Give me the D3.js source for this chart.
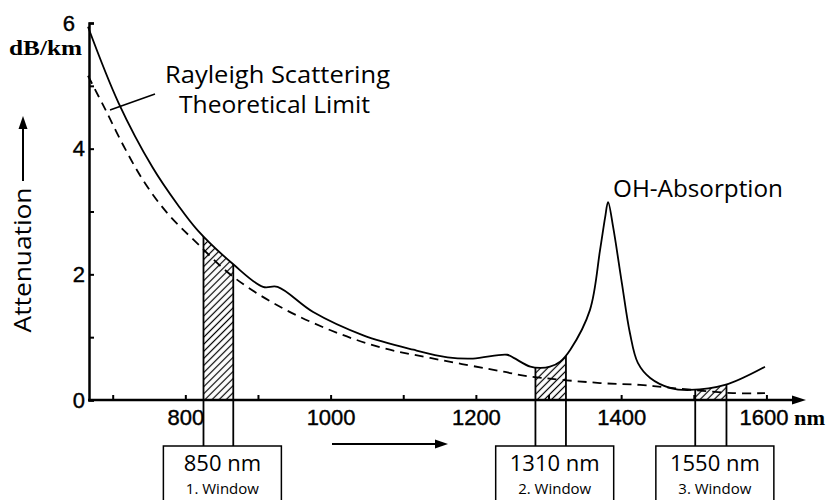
<!DOCTYPE html>
<html lang="en">
<head>
<meta charset="utf-8">
<title>Fiber Attenuation</title>
<script src="https://cdn.jsdelivr.net/npm/d3@7"></script>
<style>
  body { margin: 0; background: #fff; }
</style>
</head>
<body>
<script>

 // total attenuation curve
 var totalNm = [666, 708, 755, 790, 817, 866, 907, 927, 976, 1045, 1114, 1161, 1196, 1243, 1252, 1275, 1289, 1302, 1316, 1330, 1357, 1371, 1378, 1382, 1389, 1401, 1412, 1423, 1440, 1468, 1495, 1543, 1598];
 var totalDb = [5.94, 4.73, 3.70, 3.10, 2.70, 2.16, 1.80, 1.80, 1.40, 1.03, 0.80, 0.68, 0.66, 0.72, 0.67, 0.53, 0.51, 0.53, 0.61, 0.80, 1.43, 2.39, 2.91, 3.15, 2.75, 1.86, 1.07, 0.59, 0.35, 0.19, 0.16, 0.24, 0.53];

 // rayleigh scattering limit (dashed)
 var rayleighNm = [666, 690, 717, 745, 777, 814, 866, 931, 1000, 1068, 1137, 1238, 1271, 1371, 1426, 1472, 1554, 1598];
 var rayleighDb = [5.16, 4.62, 4.00, 3.44, 2.95, 2.52, 1.96, 1.48, 1.11, 0.84, 0.67, 0.45, 0.38, 0.27, 0.24, 0.19, 0.11, 0.11];

 // transmission windows
 var windowFrom = [825, 1282, 1502];
 var windowTo = [866, 1324, 1545];
 var windowNames = ["850 nm", "1310 nm", "1550 nm"];
 var windowNums = ["1. Window", "2. Window", "3. Window"];

 var xTicks = [700, 800, 900, 1000, 1100, 1200, 1300, 1400, 1500, 1600];
 var xLabels = [800, 1000, 1200, 1400, 1600];
 var yTicks = [0, 1, 2, 3, 4, 5, 6];
 var yLabels = [0, 2, 4, 6];

 var width = 827;
 var height = 500;

 var svg = d3.select("body")
	     .append("svg")
	     .attr("width", width)
	     .attr("height", height)
	     .style("background", "#fff");

 var x = d3.scaleLinear().domain([666, 1660]).range([88, 810]);
 var y = d3.scaleLinear().domain([0, 6]).range([400, 23]);

 var boxTop = 446;

 var defs = svg.append("defs");

 defs.append("pattern")
     .attr("id", "hatch")
     .attr("patternUnits", "userSpaceOnUse")
     .attr("width", 5)
     .attr("height", 5)
     .attr("patternTransform", "rotate(45)")
     .append("line")
     .attr("x1", 2.5).attr("y1", 0)
     .attr("x2", 2.5).attr("y2", 5)
     .attr("stroke", "#000")
     .attr("stroke-width", 1.2);

 var idx = d3.range(totalNm.length);
 var curve = d3.curveCatmullRom.alpha(0.5);

 // area under the total curve, used to clip the hatched windows
 var under = d3.area()
	       .x(function (i) { return x(totalNm[i]); })
	       .y0(boxTop)
	       .y1(function (i) { return y(totalDb[i]); })
	       .curve(curve);

 defs.append("clipPath")
     .attr("id", "under")
     .append("path")
     .attr("d", under(idx));

 // hatched windows + their boundary lines
 var win = svg.append("g").attr("clip-path", "url(#under)");
 windowFrom.forEach(function (a, k) {
     var b = windowTo[k];
     win.append("rect")
	.attr("x", x(a))
	.attr("y", y(6))
	.attr("width", x(b) - x(a))
	.attr("height", y(0) - y(6))
	.attr("fill", "url(#hatch)");
     [a, b].forEach(function (v) {
	 win.append("line")
	    .attr("x1", x(v)).attr("x2", x(v))
	    .attr("y1", y(6)).attr("y2", boxTop)
	    .attr("stroke", "#000")
	    .attr("stroke-width", 1.8);
     });
 });

 // curves
 var totalLine = d3.line()
		   .x(function (i) { return x(totalNm[i]); })
		   .y(function (i) { return y(totalDb[i]); })
		   .curve(curve);

 svg.append("path")
    .attr("d", totalLine(idx))
    .attr("fill", "none")
    .attr("stroke", "#000")
    .attr("stroke-width", 1.8);

 var rayLine = d3.line()
		 .x(function (i) { return x(rayleighNm[i]); })
		 .y(function (i) { return y(rayleighDb[i]); })
		 .curve(curve);

 svg.append("path")
    .attr("d", rayLine(d3.range(rayleighNm.length)))
    .attr("fill", "none")
    .attr("stroke", "#000")
    .attr("stroke-width", 1.8)
    .attr("stroke-dasharray", "9,6");

 // axes
 var xAxis = d3.axisBottom(x)
	       .tickValues(xTicks)
	       .tickSizeInner(-5)
	       .tickSizeOuter(0)
	       .tickPadding(9)
	       .tickFormat(function (d) { return xLabels.indexOf(d) >= 0 ? d : ""; });

 var gx = svg.append("g")
	     .attr("transform", "translate(0," + y(0) + ")")
	     .call(xAxis);
 gx.select(".domain").remove();
 gx.selectAll(".tick line").attr("stroke", "#000").attr("stroke-width", 2);
 gx.selectAll(".tick text")
   .attr("font-family", "Liberation Sans, Arial, sans-serif")
   .attr("font-size", 22)
   .attr("fill", "#000")
   .attr("stroke", "#000")
   .attr("stroke-width", 0.4)
   .attr("dx", function (d) { return d === 1600 ? -3 : 0; });

 svg.append("line")
    .attr("x1", 88).attr("x2", 796)
    .attr("y1", y(0)).attr("y2", y(0))
    .attr("stroke", "#000")
    .attr("stroke-width", 2.5);
 svg.append("path")
    .attr("d", "M792," + (y(0) - 4.5) + "L806," + y(0) + "L792," + (y(0) + 4.5) + "Z")
    .attr("fill", "#000");

 var yAxis = d3.axisLeft(y)
	       .tickValues(yTicks)
	       .tickSizeInner(-5)
	       .tickSizeOuter(-5)
	       .tickPadding(4)
	       .tickFormat(function (d) { return yLabels.indexOf(d) >= 0 ? d : ""; });

 var gy = svg.append("g")
	     .attr("transform", "translate(89,0)")
	     .call(yAxis);
 gy.select(".domain").attr("stroke", "#000").attr("stroke-width", 2.5);
 gy.selectAll(".tick line").attr("stroke", "#000").attr("stroke-width", 2);
 gy.selectAll(".tick text")
   .attr("font-family", "Liberation Sans, Arial, sans-serif")
   .attr("font-size", 22)
   .attr("fill", "#000")
   .attr("stroke", "#000")
   .attr("stroke-width", 0.4)
   .attr("x", function (d) { return d === 6 ? -14 : -4; });

 // units
 svg.append("text")
    .attr("x", 9).attr("y", 55)
    .attr("font-family", "Liberation Serif, Times New Roman, serif")
    .attr("font-weight", "bold")
    .attr("font-size", 20)
    .attr("textLength", 73)
    .attr("lengthAdjust", "spacingAndGlyphs")
    .text("dB/km");

 svg.append("text")
    .attr("x", 794).attr("y", 425)
    .attr("font-family", "Liberation Serif, Times New Roman, serif")
    .attr("font-weight", "bold")
    .attr("font-size", 22)
    .attr("textLength", 31)
    .attr("lengthAdjust", "spacingAndGlyphs")
    .text("nm");

 // annotations
 var sans = "Open Sans, Noto Sans, sans-serif";

 svg.append("text")
    .attr("x", 165).attr("y", 83)
    .attr("font-family", sans).attr("font-size", 24)
    .attr("textLength", 225).attr("lengthAdjust", "spacingAndGlyphs")
    .text("Rayleigh Scattering");
 svg.append("text")
    .attr("x", 179).attr("y", 113)
    .attr("font-family", sans).attr("font-size", 24)
    .attr("textLength", 191).attr("lengthAdjust", "spacingAndGlyphs")
    .text("Theoretical Limit");
 svg.append("line")
    .attr("x1", 155).attr("y1", 94)
    .attr("x2", 110).attr("y2", 110)
    .attr("stroke", "#000").attr("stroke-width", 1.5);

 svg.append("text")
    .attr("x", 613).attr("y", 197)
    .attr("font-family", sans).attr("font-size", 24)
    .attr("textLength", 170).attr("lengthAdjust", "spacingAndGlyphs")
    .text("OH-Absorption");

 svg.append("text")
    .attr("transform", "translate(31,260) rotate(-90)")
    .attr("text-anchor", "middle")
    .attr("font-family", sans).attr("font-size", 24)
    .attr("textLength", 145).attr("lengthAdjust", "spacingAndGlyphs")
    .text("Attenuation");

 // arrows
 svg.append("line")
    .attr("x1", 23).attr("x2", 23).attr("y1", 181).attr("y2", 126)
    .attr("stroke", "#000").attr("stroke-width", 2);
 svg.append("path")
    .attr("d", "M18.5,129L23,116L27.5,129Z")
    .attr("fill", "#000");

 svg.append("line")
    .attr("x1", 332).attr("x2", 438).attr("y1", 444).attr("y2", 444)
    .attr("stroke", "#000").attr("stroke-width", 2);
 svg.append("path")
    .attr("d", "M435,439.5L448,444L435,448.5Z")
    .attr("fill", "#000");

 // window boxes
 windowFrom.forEach(function (a, k) {
     var cx = (x(a) + x(windowTo[k])) / 2 + 4;
     svg.append("rect")
	.attr("x", cx - 59).attr("y", boxTop)
	.attr("width", 118).attr("height", 70)
	.attr("fill", "#fff")
	.attr("stroke", "#000")
	.attr("stroke-width", 1.5);
     svg.append("text")
	.attr("x", cx).attr("y", 471)
	.attr("text-anchor", "middle")
	.attr("font-family", sans).attr("font-size", 22)
	.text(windowNames[k]);
     svg.append("text")
	.attr("x", cx).attr("y", 494)
	.attr("text-anchor", "middle")
	.attr("font-family", sans).attr("font-size", 15)
	.text(windowNums[k]);
 });

</script>
</body>
</html>
